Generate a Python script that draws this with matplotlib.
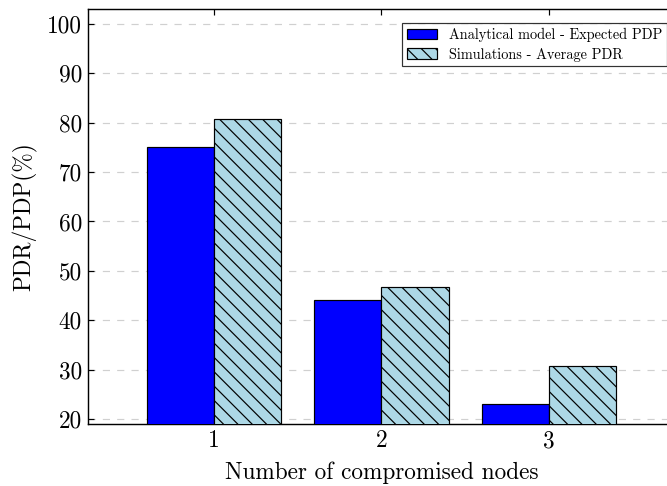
import matplotlib
matplotlib.use("Agg")
import matplotlib.pyplot as plt
import numpy as np

plt.rcParams['font.family'] = 'serif'
plt.rcParams['font.serif'] = ['cmr10']
plt.rcParams['mathtext.fontset'] = 'cm'
plt.rcParams['axes.formatter.use_mathtext'] = True
plt.rcParams['hatch.linewidth'] = 1.0

categories = [1, 2, 3]
analytical = [75.0, 44.0, 23.0]
simulations = [80.7, 46.8, 30.8]
yticks = [20, 30, 40, 50, 60, 70, 80, 90, 100]
label_a = 'Analytical model - Expected PDP'
label_s = 'Simulations - Average PDR'

DPI = 86
W, H = 667, 486
fig = plt.figure(figsize=(W / DPI, H / DPI), dpi=DPI)
left, right, bottom, top = 88, 675, 424, 9
ax = fig.add_axes([left / W, (H - bottom) / H, (right - left) / W, (bottom - top) / H])

x = np.array(categories, dtype=float)
w = 0.4
ax.bar(x - w / 2, analytical, w, color='#0000ff', edgecolor='black', linewidth=1.0,
       label=label_a, zorder=3)
ax.bar(x + w / 2, simulations, w, color='#add8e6', edgecolor='black', linewidth=1.0,
       hatch='\\\\', label=label_s, zorder=3)

ax.set_xlim(0.25, 3.75)
ax.set_ylim(19, 103)
ax.set_xticks(categories)
ax.set_xticklabels([str(c) for c in categories])
ax.set_yticks(yticks)
ax.set_yticklabels([str(t) for t in yticks])
ax.tick_params(axis='both', direction='in', labelsize=19.5, length=5, width=1,
               top=True, right=True, pad=5)
ax.yaxis.grid(True, linestyle=(0, (6, 6)), color='#d0d0d0', linewidth=1.0, zorder=0)
ax.set_axisbelow(True)
for s in ax.spines.values():
    s.set_linewidth(1.2)

ax.set_ylabel('PDR/PDP(%)', fontsize=19.5, labelpad=8)
ax.set_xlabel('Number of compromised nodes', fontsize=19.5, labelpad=8)

ax_w = right - left
ax_h = bottom - top
leg = ax.legend(loc='upper right', bbox_to_anchor=((667 - left) / ax_w, (bottom - 23) / ax_h),
                fontsize=12, frameon=True, fancybox=False, edgecolor='black',
                borderaxespad=0.0, handlelength=2.1, handleheight=0.75, borderpad=0.33,
                labelspacing=0.4, handletextpad=0.85)
leg.get_frame().set_linewidth(1.0)

fig.savefig('out.png', dpi=DPI)
